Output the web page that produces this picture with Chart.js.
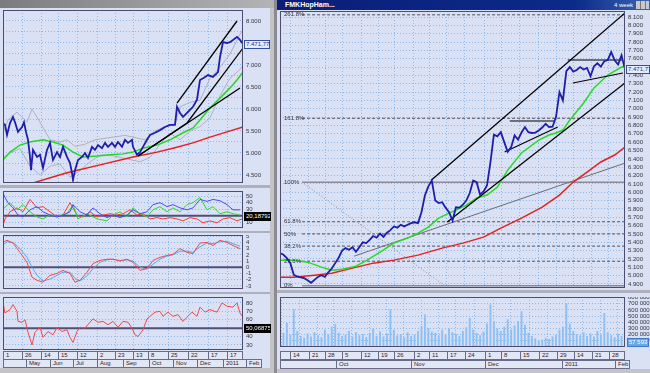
<!DOCTYPE html>
<html>
<head>
<meta charset="utf-8">
<script src="https://cdn.jsdelivr.net/npm/chart.js@4.4.0/dist/chart.umd.min.js"></script>
<style>
  body { margin: 0; width: 650px; height: 373px; background: #c8c8cc; position: relative; overflow: hidden; font-family: "Liberation Sans", Arial, sans-serif; }
  .abs { position: absolute; }
  canvas { position: absolute; }
  .win { background: #dbe1f4; }
  .row { position: absolute; background: #e2e7f6; border: 1px solid #6a6a8a; box-sizing: border-box; }
  .cell { position: absolute; box-sizing: border-box; border-left: 1px solid #6a6a8a; font-size: 6px; line-height: 7px; color: #3a2020; padding-left: 2px; white-space: nowrap; overflow: hidden; }
  .box { position: absolute; font-size: 6px; line-height: 7px; padding: 0 1px; white-space: nowrap; overflow: hidden; box-sizing: border-box; }
</style>
</head>
<body>
<div class="abs win" style="left:0;top:0;width:274px;height:373px"></div>
<div class="abs" style="left:0;top:0;width:274px;height:8px;background:linear-gradient(90deg,#7c7c80,#b4b4b8)"></div>
<div class="abs" style="left:270px;top:8px;width:4px;height:360px;background:#c4c4c8"></div>
<div class="abs" style="left:274px;top:0;width:3px;height:373px;background:#8a8a90"></div>
<div class="abs win" style="left:277px;top:0;width:373px;height:373px"></div>
<div class="abs" style="left:277px;top:0;width:373px;height:10px;background:linear-gradient(90deg,#0a1e78,#0c2a8a 80%,#3a64b0)"></div>
<div class="abs" style="left:285px;top:1px;font-size:7px;line-height:8px;color:#fff;font-weight:bold">FMKHopHam...</div>
<div class="abs" style="left:614px;top:1px;font-size:6px;line-height:8px;color:#fff">4 week</div>
<div class="abs" style="left:636px;top:1px;width:13px;height:8px;background:repeating-linear-gradient(90deg,#c8c8cc 0 4px,#777 4px 5px)"></div>
<div class="abs" style="left:0;top:185px;width:270px;height:3px;background:#b0b0bc"></div>
<div class="abs" style="left:0;top:231px;width:270px;height:2px;background:#b0b0bc"></div>
<div class="abs" style="left:0;top:292px;width:270px;height:2px;background:#b0b0bc"></div>
<div class="abs" style="left:277px;top:290px;width:373px;height:3px;background:#b0b0bc"></div>
<div class="abs" style="left:0;top:368px;width:274px;height:5px;background:#c4c4c8"></div>
<div class="abs" style="left:277px;top:369px;width:373px;height:4px;background:#c4c4c8"></div>

<canvas id="lp" width="270" height="173" style="left:3px;top:10px"></canvas>
<canvas id="ld" width="270" height="37" style="left:3px;top:191px"></canvas>
<canvas id="lm" width="270" height="54" style="left:3px;top:235px"></canvas>
<canvas id="lr" width="270" height="53" style="left:3px;top:297px"></canvas>
<canvas id="rp" width="370" height="277" style="left:280px;top:11px"></canvas>
<canvas id="rv" width="370" height="50" style="left:280px;top:297px"></canvas>

<script>
// ---------- left window (trading-day index 0..240) ----------
const lpX = [0,2,4,7,10,12,15,19,21,23,25,27,28,30,34,37,40,44,47,50,54,57,60,64,67,69,70,72,75,79,82,85,89,92,95,99,102,105,109,112,115,119,122,125,129,130,134,137,140,144,147,152,157,162,167,172,174,177,180,184,187,190,194,197,201,205,210,215,217,220,224,227,230,234,237,240];
const lpY = [5680,5640,5410,5680,5820,5700,5480,5590,5700,5480,5300,4910,4610,5070,4910,4960,4660,5070,5230,4840,5020,4910,5140,4910,4770,4550,4390,4610,4840,4910,5000,4890,5140,5070,5180,5110,5230,5140,5230,5140,5250,5140,5300,5230,5300,5140,4960,5020,5140,5300,5410,5460,5520,5590,5640,5640,6050,5910,5820,5910,5980,6050,6210,6660,6710,6770,6730,6840,7180,7520,7500,7520,7570,7640,7570,7480];
const lmaFastX = [0,7,17,27,40,50,60,70,80,94,107,120,130,140,154,167,180,190,197,207,217,227,234,240];
const lmaFastY = [4840,5020,5180,5250,5300,5250,5180,5020,4910,4930,4960,4980,5020,5110,5180,5300,5460,5570,5750,6020,6250,6480,6660,6840];
const lmaSlowX = [30,64,97,130,154,170,190,207,224,240];
const lmaSlowY = [4320,4550,4730,4910,5020,5110,5230,5360,5480,5590];
const lbandUpX = [0,5,14,24,29,37,47,57,64,72,82,92,107,122,132,142,152,162,172,177,187,197,207,217,227,237,240];
const lbandUpY = [5450,5750,5930,5700,6000,5700,5300,5250,5300,5150,5200,5300,5350,5400,5350,5300,5500,5600,5650,6050,6150,6200,6700,6950,7250,7700,7800];
const lbandLoX = [0,7,17,27,37,47,57,67,77,87,97,107,117,127,137,147,157,167,177,187,197,207,217,227,237,240];
const lbandLoY = [4900,5000,5100,4700,4500,4700,4750,4450,4600,4800,4950,4950,4900,4850,4800,4900,5200,5450,5300,5500,5600,5800,6300,6700,6900,7000];
const lTrend = [[174,6136,234,8000],[184,5682,240,7386],[135,4932,237,6477],[135,4932,184,5682]];

const dmiBlueX = [0,2,5,10,15,20,27,34,40,47,54,60,67,70,77,84,90,97,104,110,117,124,130,137,144,150,157,164,170,177,184,190,197,204,210,217,224,230,237];
const dmiBlueY = [55,48,40,32,21,18,29,34,26,21,18,21,26,37,26,21,32,23,17,21,17,21,29,23,26,37,40,34,37,32,29,32,45,42,45,43,37,29,29];
const dmiGreenX = [0,7,14,20,27,34,40,47,54,64,70,75,84,94,104,110,117,124,130,137,144,150,157,164,170,177,184,190,197,204,210,217,224,230,237];
const dmiGreenY = [30,40,29,37,26,18,15,21,19,23,37,15,23,15,12,21,26,18,32,23,18,29,34,26,32,26,37,40,48,29,34,23,26,23,21];
const dmiRedX = [0,2,7,14,20,27,34,40,47,54,60,67,74,80,87,94,100,107,114,120,127,134,140,147,154,160,167,174,180,187,194,200,207,214,220,227,234,239];
const dmiRedY = [5,15,26,32,26,45,32,34,26,18,21,40,21,18,26,18,21,23,21,23,29,21,23,15,17,15,17,15,12,17,15,9,12,9,15,17,12,15];

const macdX = [0,4,10,17,24,29,34,40,47,54,60,67,72,77,84,90,97,104,110,117,124,130,137,144,150,157,164,170,177,184,190,197,204,210,217,224,230,237];
const macdLine = [4.0,4.35,3.9,2.4,0.8,-1.6,-2.1,-2.4,-1.3,-1.0,-0.5,-1.0,-2.4,-2.1,-0.8,0.6,1.1,1.3,1.3,1.0,1.3,0.8,-0.5,-0.2,1.1,1.6,1.9,2.1,3.0,2.4,2.2,3.9,4.0,3.5,4.35,4.0,3.5,3.0];
const macdSignal = [3.6,4.1,4.0,3.0,1.6,0.0,-1.3,-2.2,-1.9,-1.3,-0.8,-0.8,-1.8,-2.2,-1.4,-0.2,0.8,1.2,1.3,1.1,1.2,1.0,0.0,-0.3,0.5,1.3,1.8,2.0,2.6,2.6,2.4,3.3,3.9,3.8,4.1,4.2,3.8,3.4];

const rsiX = [0,2,7,10,14,15,19,22,25,29,32,37,40,45,50,54,59,64,67,70,74,77,82,87,90,95,100,105,110,115,120,125,129,132,135,140,144,147,152,157,160,165,170,175,180,184,189,194,197,202,207,214,219,224,230,234,237,240];
const rsiY = [80,68,72,78,70,58,57,60,45,30,45,51,39,46,42,51,46,48,39,33,46,51,50,57,61,57,58,54,58,51,58,57,50,42,40,48,61,64,69,70,64,69,64,66,58,63,69,64,75,69,72,69,80,76,75,80,68,63];

const lWeekIdx = [-1,19,38,55,74,94,112,130,145,165,185,205,224];
const lWeekLbl = ['1','26','14','15','12','2','23','13','8','25','22','17','17'];
const lMonthIdx = [23,47,70,94,120,146,170,194,220,243];
const lMonthLbl = ['May','Jun','Jul','Aug','Sep','Oct','Nov','Dec','2011','Feb'];
const lPriceTicks = [4500,4750,5000,5250,5500,5750,6000,6250,6500,6750,7000,7250,7500,7750,8000];

// ---------- right window (trading-day index 0..100) ----------
const priceR = [5270,5250,5210,5150,5010,4990,4980,4970,4945,4915,
  4950,4985,5005,4985,5040,5085,5150,5215,5300,5330,
  5310,5340,5285,5340,5400,5390,5430,5475,5455,5505,
  5465,5515,5545,5590,5575,5610,5590,5610,5630,5640,
  5630,5760,5960,6070,6140,5900,5870,5880,5815,5760,
  5660,5820,5815,5850,5900,5990,6140,6120,5970,6010,
  6080,6360,6690,6670,6720,6600,6485,6540,6680,6630,
  6715,6780,6720,6710,6715,6740,6775,6820,6780,6785,
  6900,7200,7100,7450,7500,7445,7465,7500,7470,7490,
  7390,7510,7545,7505,7570,7585,7680,7580,7530,7640,
  7472];
const volumeR = [180,230,390,200,610,260,180,150,220,170,
  240,190,160,280,210,330,370,230,180,200,
  260,170,240,190,210,160,230,300,180,250,
  170,220,610,280,190,210,160,240,180,200,
  260,340,530,310,250,230,190,280,200,300,
  240,210,180,260,320,470,280,230,190,250,
  380,690,420,300,260,330,450,280,350,420,
  580,360,230,180,140,110,120,150,130,170,
  200,280,330,710,380,260,210,190,240,180,
  220,170,260,200,550,240,190,160,210,180,
  150];
const rmaFastX = [0,4,8,12,15,18,22,25,29,33,37,40,43,46,49,51,54,57,60,63,66,70,75,78,80,82,84,88,91,95,99,100];
const rmaFastY = [5186,5186,5162,5102,5066,5078,5114,5180,5282,5390,5450,5510,5582,5690,5750,5786,5846,5930,5966,6060,6265,6470,6625,6685,6710,6745,6865,7070,7250,7405,7500,7510];
const rmaSlowX = [0,4,10,15,21,27,33,40,47,53,59,64,70,76,81,85,89,93,97,100];
const rmaSlowY = [4982,4982,5006,5030,5090,5150,5186,5246,5330,5390,5462,5570,5690,5822,5966,6122,6242,6362,6446,6540];
const rChannel = [[43.9,6146,100,8148],[48.5,5642,100,7309]];
const rShort = [[66.6,6853,79.7,6853],[65.1,6481,80.5,6781],[83.4,7584,99.1,7584],[84.9,7309,99.4,7428]];
const rGreyTrend = [21.5,5234,100,6349];
const rFanDiag = [6.4,6120,47.7,4880];
const fibPct = ['0%','23.6%','38.2%','50%','61.8%','100%','161.8%','261.8%'];
const fibVal = [4880,5173,5354,5500,5646,6120,6886,8126];
const fibStart = 6.4;

const rWeekIdx = [3,8.4,13.1,18,23.5,28.5,33.1,38.7,43.3,48.3,53.5,59.3,64.2,69.5,75,80.2,85.2,90.4,95.3];
const rWeekLbl = ['14','21','28','5','12','19','26','2','11','17','24','1','8','15','22','29','14','21','28'];
const rMonthIdx = [16.3,38.1,59.3,81.7,97.1];
const rMonthLbl = ['Oct','Nov','Dec','2011','Feb'];
const volTicks = [0,100000,200000,300000,400000,500000,600000,700000,800000];

const lastClose = '7.471,77';

// ---------- helpers ----------
Chart.defaults.font.family = '"Liberation Sans", Arial, sans-serif';
const FONT = { size: 6 };
const GRID = 'rgba(120,175,230,0.8)';
const dots = s => String(s).replace(/\B(?=(\d{3})+(?!\d))/g, '.');
const spaced = s => String(s).replace(/\B(?=(\d{3})+(?!\d))/g, ' ');

const frame = {
  id: 'frame',
  afterDraw(c) {
    const a = c.chartArea, x = c.ctx;
    x.save();
    x.strokeStyle = '#4c4c70';
    x.lineWidth = 1;
    x.strokeRect(a.left + 0.5, a.top + 0.5, a.width - 1, a.height - 1);
    x.restore();
  }
};

const fibText = {
  id: 'fibText',
  afterDatasetsDraw(c) {
    const a = c.chartArea, x = c.ctx, ys = c.scales.y;
    x.save();
    x.font = '6px "Liberation Sans", Arial';
    x.fillStyle = '#303040';
    x.textBaseline = 'middle';
    fibPct.forEach((t, i) => x.fillText(t, a.left + 4, ys.getPixelForValue(fibVal[i])));
    x.restore();
  }
};

function yAxis(min, max, ticks, fmt, w) {
  return {
    position: 'right', min, max, bounds: 'data',
    afterBuildTicks: s => { s.ticks = ticks.map(v => ({ value: v })); },
    afterFit: s => { s.width = w; s.paddingTop = 0; s.paddingBottom = 0; },
    ticks: { font: FONT, color: '#34343c', padding: 3, autoSkip: false, callback: fmt },
    grid: { color: GRID, drawTicks: false },
    border: { display: false, dash: [1, 2] }
  };
}
function xAxis(min, max, lines) {
  return {
    type: 'linear', min, max, offset: false, bounds: 'data',
    afterBuildTicks: s => { s.ticks = lines.map(v => ({ value: v })); },
    afterFit: s => { s.height = 0; s.paddingLeft = 0; s.paddingRight = 0; },
    ticks: { display: false },
    grid: { color: GRID, drawTicks: false },
    border: { display: false, dash: [1, 2] }
  };
}
function line(xs, ys, color, w, dash) {
  return { type: 'line', data: xs.map((x, i) => ({ x, y: ys[i] })), borderColor: color,
    borderWidth: w, borderDash: dash || [], pointRadius: 0, fill: false, tension: 0 };
}
function seg(s, color, w, dash) { return line([s[0], s[2]], [s[1], s[3]], color, w, dash); }
function mk(id, type, datasets, xs, ys, extra) {
  return new Chart(document.getElementById(id), {
    type,
    data: { datasets },
    options: {
      responsive: false, animation: false, devicePixelRatio: 1,
      layout: { padding: 0 },
      plugins: { legend: { display: false }, tooltip: { enabled: false } },
      scales: { x: xs, y: ys },
      elements: { point: { radius: 0 } }
    },
    plugins: [frame].concat(extra || [])
  });
}
function box(text, left, top, w, bg, fg, border) {
  const d = document.createElement('div');
  d.className = 'box';
  d.style.cssText += 'left:' + left + 'px;top:' + top + 'px;width:' + w + 'px;background:' + bg + ';color:' + fg + ';border:1px solid ' + border;
  d.textContent = text;
  document.body.appendChild(d);
}
function strip(chart, canvasLeft, top, h, seps, labels, startPx, endPx) {
  const row = document.createElement('div');
  row.className = 'row';
  row.style.cssText += 'left:' + startPx + 'px;top:' + top + 'px;width:' + (endPx - startPx) + 'px;height:' + h + 'px';
  document.body.appendChild(row);
  const s = chart.scales.x;
  seps.forEach((v, k) => {
    const x0 = Math.max(startPx, Math.round(canvasLeft + s.getPixelForValue(v)));
    const x1 = k + 1 < seps.length ? Math.round(canvasLeft + s.getPixelForValue(seps[k + 1])) : endPx;
    const d = document.createElement('div');
    d.className = 'cell';
    d.style.cssText += 'left:' + x0 + 'px;top:' + (top + 1) + 'px;width:' + (x1 - x0) + 'px;height:' + (h - 2) + 'px';
    d.textContent = labels[k];
    document.body.appendChild(d);
  });
}

// ---------- left charts ----------
const lp = mk('lp', 'line', [
  line(lpX, lpY, '#1e1eaa', 1.8),
  ...lTrend.map(s => seg(s, '#000', 1.3)),
  line(lmaFastX, lmaFastY, '#22d822', 1.5),
  line(lmaSlowX, lmaSlowY, '#e42020', 1.5),
  line(lbandUpX, lbandUpY, '#a4a4b4', 0.8),
  line(lbandLoX, lbandLoY, '#a4a4b4', 0.8)
], xAxis(0, 240, lWeekIdx), yAxis(4318, 8250, lPriceTicks, v => v % 500 === 0 ? dots(v) : '', 30));

const ld = mk('ld', 'line', [
  line(dmiBlueX, dmiBlueY, '#4a4af0', 1),
  line(dmiGreenX, dmiGreenY, '#2ad82a', 1),
  line(dmiRedX, dmiRedY, '#f03c3c', 1),
  line([0, 240], [20, 20], '#4e4e78', 2)
], xAxis(0, 240, lWeekIdx), yAxis(1, 58, [10, 20, 30, 40, 50], v => String(v), 30));

const lm = mk('lm', 'line', [
  line(macdX, macdLine, '#f04848', 1),
  line(macdX, macdSignal, '#54a8f0', 1),
  line([0, 240], [0, 0], '#4e4e78', 2)
], xAxis(0, 240, lWeekIdx), yAxis(-3.5, 5.2, [-3, -2, -1, 0, 1, 2, 3, 4, 5], v => String(v), 30));

const lr = mk('lr', 'line', [
  line(rsiX, rsiY, '#f04848', 1),
  line([0, 240], [50, 50], '#4e4e78', 2)
], xAxis(0, 240, lWeekIdx), yAxis(24, 87, [30, 40, 50, 60, 70, 80], v => String(v), 30));

// ---------- right charts ----------
const rPriceTicks = [];
for (let v = 4900; v <= 8100; v += 100) rPriceTicks.push(v);
const fibLines = fibVal.map((v, i) => seg([fibStart, v, 100, v],
  (i === 0 || i === 5) ? '#8a8a9c' : '#505060', (i === 0 || i === 5) ? 1.5 : 1, (i === 0 || i === 5) ? [] : [3, 2]));

const rp = mk('rp', 'line', [
  line(priceR.map((_, i) => i), priceR, '#1e1eaa', 1.8),
  ...rChannel.map(s => seg(s, '#000', 1.3)),
  ...rShort.map(s => seg(s, '#000', 1.1)),
  line(rmaFastX, rmaFastY, '#22dd22', 1.5),
  line(rmaSlowX, rmaSlowY, '#e42020', 1.5),
  seg(rGreyTrend, '#6c6c78', 1),
  seg(rFanDiag, '#8a8a9a', 1, [1, 2]),
  ...fibLines
], xAxis(0, 100, rWeekIdx), yAxis(4852, 8172, rPriceTicks, v => dots(v), 25), [fibText]);

const rv = mk('rv', 'bar', [{
  type: 'bar',
  data: volumeR.map((v, i) => ({ x: i, y: v * 1000 })),
  backgroundColor: '#8cc0f4',
  barPercentage: 0.55, categoryPercentage: 1
}], xAxis(0, 100, rWeekIdx), yAxis(0, 810000, volTicks, v => spaced(v), 25));

// ---------- date strips and value boxes ----------
strip(lp, 3, 351, 9, lWeekIdx, lWeekLbl, 3, 243);
strip(lp, 3, 359, 9, lMonthIdx, lMonthLbl, 3, 262);
strip(rp, 280, 351, 9, rWeekIdx, rWeekLbl, 280, 625);
strip(rp, 280, 360, 9, rMonthIdx, rMonthLbl, 280, 630);

box(lastClose, 244, 10 + Math.round(lp.scales.y.getPixelForValue(7471.77)) - 4, 26, '#e6ecff', '#1a2a80', '#3050a0');
box(lastClose, 626, 11 + Math.round(rp.scales.y.getPixelForValue(7471.77)) - 4, 24, '#e6ecff', '#1a2a80', '#3050a0');
box('20,18792', 244, 191 + Math.round(ld.scales.y.getPixelForValue(20.19)) - 4, 27, '#000', '#fff', '#000');
box('50,06875', 244, 297 + Math.round(lr.scales.y.getPixelForValue(50.07)) - 4, 27, '#000', '#fff', '#000');
box('57 593', 627, 297 + Math.round(rv.scales.y.getPixelForValue(57593)) - 5, 22, '#6aa6ea', '#fff', '#3a78c8');
</script>
</body>
</html>
